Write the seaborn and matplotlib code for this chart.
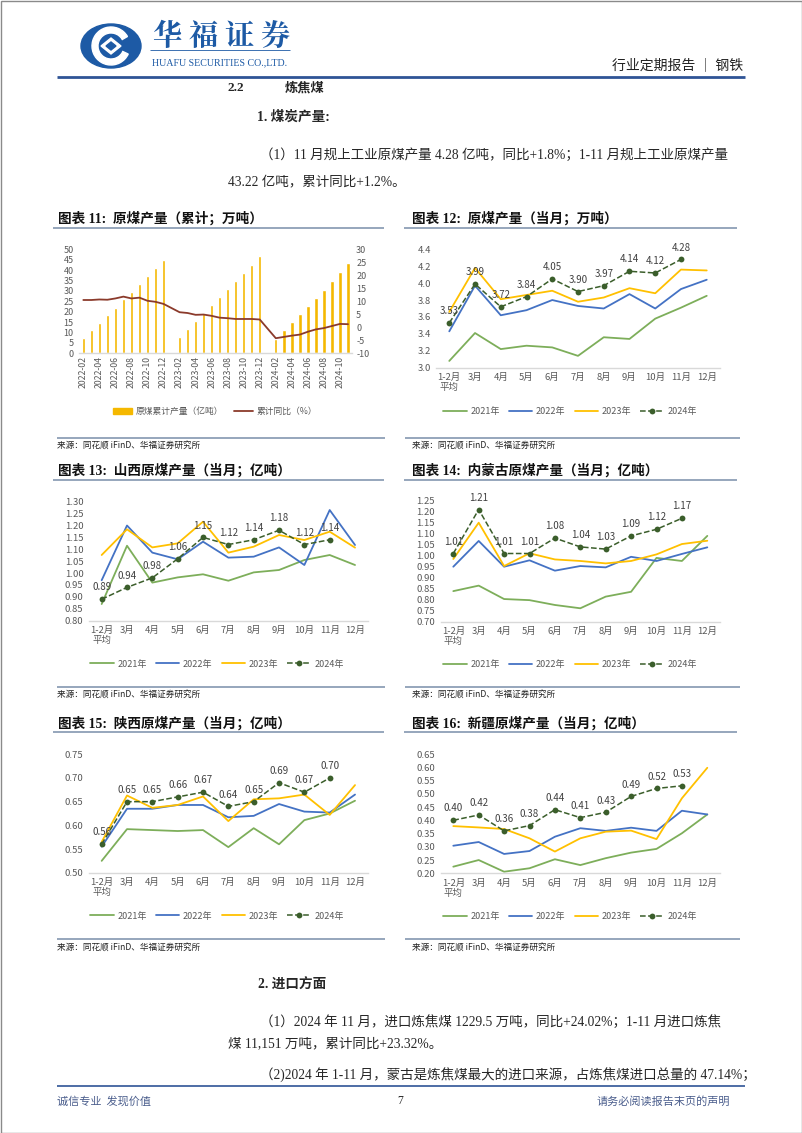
import matplotlib
matplotlib.use('Agg')
import matplotlib.pyplot as plt
import numpy as np
import pandas as pd
import seaborn as sns
from matplotlib.patches import Ellipse, Wedge, Polygon, Rectangle, Patch
from matplotlib.lines import Line2D

W, H = 802, 1133

# ---- 图表11: 原煤累计产量(亿吨) 与 累计同比(%) ----
cum_months = list(pd.period_range('2022-02', '2024-11', freq='M').strftime('%Y-%m'))
cum_prod = [7.2, 11.2, 14.6, 18.4, 22.0, 26.0, 29.5, 33.3, 37.0, 40.9, 45.0, None,
            7.7, 11.7, 15.5, 19.6, 23.1, 27.1, 30.8, 34.8, 38.5, 42.5, 46.8, None,
            7.0, 11.2, 14.9, 18.7, 22.8, 26.6, 30.6, 34.8, 39.1, 43.2]
cum_yoy = [10.5, 10.5, 10.7, 10.6, 11.1, 11.8, 11.1, 11.4, 10.2, 9.8, 9.0, None,
           5.8, 5.5, 4.8, 4.9, 4.4, 3.7, 3.5, 3.2, 3.2, 3.2, 3.0, None,
           -4.2, -3.7, -3.2, -2.8, -1.7, -0.8, -0.3, 0.5, 1.3, 1.2]

# ---- 当月数据 ----
MONTHS = ['1-2月\n平均', '3月', '4月', '5月', '6月', '7月', '8月', '9月', '10月', '11月', '12月']
YEARS = ['2021年', '2022年', '2023年', '2024年']

nat_2021 = [3.08, 3.41, 3.22, 3.26, 3.24, 3.14, 3.36, 3.34, 3.58, 3.71, 3.85]
nat_2022 = [3.43, 3.97, 3.62, 3.68, 3.80, 3.73, 3.70, 3.87, 3.70, 3.93, 4.04]
nat_2023 = [3.66, 4.18, 3.81, 3.86, 3.91, 3.78, 3.83, 3.94, 3.88, 4.16, 4.15]
nat_2024 = [3.53, 3.99, 3.72, 3.84, 4.05, 3.90, 3.97, 4.14, 4.12, 4.28]

sx_2021 = [0.87, 1.115, 0.96, 0.982, 0.995, 0.968, 1.003, 1.013, 1.055, 1.076, 1.034]
sx_2022 = [0.97, 1.20, 1.086, 1.058, 1.132, 1.065, 1.069, 1.108, 1.034, 1.265, 1.118]
sx_2023 = [1.076, 1.184, 1.108, 1.125, 1.216, 1.086, 1.111, 1.16, 1.139, 1.174, 1.107]
sx_2024 = [0.89, 0.94, 0.98, 1.06, 1.15, 1.12, 1.14, 1.18, 1.12, 1.14]

nm_2021 = [0.839, 0.864, 0.803, 0.798, 0.776, 0.761, 0.814, 0.836, 0.99, 0.976, 1.09]
nm_2022 = [0.95, 1.067, 0.95, 0.979, 0.932, 0.953, 0.947, 0.995, 0.976, 1.008, 1.038]
nm_2023 = [0.985, 1.15, 0.953, 1.011, 0.983, 0.976, 0.965, 0.976, 1.006, 1.053, 1.068]
nm_2024 = [1.01, 1.21, 1.01, 1.01, 1.08, 1.04, 1.03, 1.09, 1.12, 1.17]

shx_2021 = [0.525, 0.592, 0.590, 0.588, 0.590, 0.554, 0.594, 0.56, 0.611, 0.625, 0.652]
shx_2022 = [0.555, 0.635, 0.635, 0.643, 0.643, 0.617, 0.62, 0.645, 0.629, 0.627, 0.665]
shx_2023 = [0.565, 0.663, 0.637, 0.643, 0.661, 0.609, 0.655, 0.657, 0.665, 0.622, 0.685]
shx_2024 = [0.56, 0.65, 0.65, 0.66, 0.67, 0.64, 0.65, 0.69, 0.67, 0.70]

xj_2021 = [0.225, 0.25, 0.206, 0.219, 0.253, 0.231, 0.257, 0.278, 0.292, 0.351, 0.422]
xj_2022 = [0.304, 0.318, 0.273, 0.284, 0.338, 0.37, 0.36, 0.372, 0.36, 0.436, 0.422]
xj_2023 = [0.378, 0.373, 0.367, 0.332, 0.282, 0.332, 0.357, 0.361, 0.329, 0.483, 0.598]
xj_2024 = [0.40, 0.42, 0.36, 0.38, 0.44, 0.41, 0.43, 0.49, 0.52, 0.53]

C21, C22, C23, C24 = '#7DAE5A', '#4472C4', '#FFC000', '#3B5E2B'
BAR_C, YOY_C = '#F5B800', '#8B3A2B'
RULE_C, BLUE = '#8497B0', '#2F5496'
TICK_C = '#595959'

sns.set_theme(style='white')
plt.rcParams['font.family'] = ['Noto Sans CJK SC', 'DejaVu Sans']
plt.rcParams['axes.unicode_minus'] = False
SERIF = ['Liberation Serif', 'Noto Sans CJK SC']

fig = plt.figure(figsize=(W / 100, H / 100), dpi=100)
bg = fig.add_axes([0, 0, 1, 1])
bg.set_xlim(0, W)
bg.set_ylim(H, 0)
bg.axis('off')


def add_ax(l, t, r, b):
    return fig.add_axes([l / W, 1 - b / H, (r - l) / W, (b - t) / H])


def hline(y, x0, x1, color=RULE_C, lw=1.2):
    bg.plot([x0, x1], [y, y], color=color, lw=lw, solid_capstyle='butt')


# ---- 页眉 ----
bg.add_patch(Rectangle((0.5, 0.5), W - 1, H - 1, fill=False, ec='#8a8a8a', lw=1))
bg.add_patch(Ellipse((111, 46), 60, 44, color='#1D5AA5'))
bg.add_patch(Wedge((111, 46), 19, 25, 330, width=6, color='white'))
bg.add_patch(Polygon([[111, 38], [121, 46], [111, 54], [101, 46]], closed=True, color='white'))
bg.add_patch(Polygon([[111, 42], [116, 46], [111, 50], [106, 46]], closed=True, color='#1D5AA5'))
for i, ch in enumerate('华福证券'):
    bg.text(167 + i * 36, 37, ch, fontsize=21, fontweight='bold', color='#1D5AA5',
            ha='center', va='center', family=['Noto Serif CJK SC', 'Noto Sans CJK SC'])
hline(50, 150, 290, color='#1D5AA5', lw=0.6)
bg.text(220, 63, 'HUAFU SECURITIES CO.,LTD.', fontsize=7.2, color='#1D5AA5',
        ha='center', va='center', family=SERIF)
bg.text(743, 65.5, '行业定期报告 ｜ 钢铁', fontsize=10, color='#222222', ha='right', va='center')
hline(77, 57, 745, color=BLUE, lw=2)

# ---- 正文 ----
BODY = 9.75
bg.text(228, 88, '2.2', fontsize=9.5, fontweight='bold', va='center', family=SERIF)
bg.text(285, 88, '炼焦煤', fontsize=9.5, fontweight='bold', va='center', family=SERIF)
bg.text(257, 117, '1. 煤炭产量:', fontsize=9.8, fontweight='bold', va='center', family=SERIF)
bg.text(260, 155, '（1）11 月规上工业原煤产量 4.28 亿吨，同比+1.8%；1-11 月规上工业原煤产量',
        fontsize=BODY, va='center', family=SERIF)
bg.text(228, 183, '43.22 亿吨，累计同比+1.2%。', fontsize=BODY, va='center', family=SERIF)

bg.text(258, 985, '2. 进口方面', fontsize=9.8, fontweight='bold', va='center', family=SERIF)
bg.text(260, 1022, '（1）2024 年 11 月，进口炼焦煤 1229.5 万吨，同比+24.02%；1-11 月进口炼焦',
        fontsize=BODY, va='center', family=SERIF)
bg.text(228, 1044, '煤 11,151 万吨，累计同比+23.32%。', fontsize=BODY, va='center', family=SERIF)
bg.text(260, 1075, '（2)2024 年 1-11 月，蒙古是炼焦煤最大的进口来源，占炼焦煤进口总量的 47.14%；',
        fontsize=BODY, va='center', family=SERIF)

hline(1086, 57, 745, color=BLUE, lw=1.2)
bg.text(57, 1101, '诚信专业  发现价值', fontsize=8, color='#4A5D8C', va='center')
bg.text(400, 1101, '7', fontsize=8.5, va='center', ha='center', family=SERIF)
bg.text(730, 1101, '请务必阅读报告末页的声明', fontsize=8, color='#4A5D8C', va='center', ha='right')

# ---- 图表标题、分隔线、来源 ----
titles = [
    (58, 218, '图表 11:  原煤产量（累计；万吨）'),
    (412, 218, '图表 12:  原煤产量（当月；万吨）'),
    (58, 470, '图表 13:  山西原煤产量（当月；亿吨）'),
    (412, 470, '图表 14:  内蒙古原煤产量（当月；亿吨）'),
    (58, 723, '图表 15:  陕西原煤产量（当月；亿吨）'),
    (412, 723, '图表 16:  新疆原煤产量（当月；亿吨）'),
]
for x, y, t in titles:
    bg.text(x, y, t, fontsize=9.8, fontweight='bold', va='center', color='#111111', family=SERIF)
for y in (227.5, 479.5, 732):
    hline(y, 53, 384)
    hline(y, 404, 737)
for y in (437.5, 686.5, 939):
    hline(y, 57, 385)
    hline(y, 405, 740)
    bg.text(57, y + 9, '来源：同花顺 iFinD、华福证券研究所', fontsize=6.2, va='center', color='#222222')
    bg.text(412, y + 9, '来源：同花顺 iFinD、华福证券研究所', fontsize=6.2, va='center', color='#222222')


def style_ax(ax, ylim, step, fmt):
    ticks = np.arange(ylim[0], ylim[1] + step / 2, step)
    ax.set_ylim(ylim)
    ax.set_yticks(ticks)
    ax.set_yticklabels([fmt.format(v) for v in ticks])
    for s in ('top', 'right', 'left'):
        ax.spines[s].set_visible(False)
    ax.spines['bottom'].set_color('#D9D9D9')
    ax.spines['bottom'].set_linewidth(1)
    ax.tick_params(axis='both', length=0, labelsize=6.8, labelcolor=TICK_C, pad=4)
    ax.set_xlabel('')
    ax.set_ylabel('')
    ax.patch.set_alpha(0)


def month_chart(box, s21, s22, s23, s24, ylim, step, fmt, legend_xy):
    ax = add_ax(*box)
    pos = np.arange(len(MONTHS))
    for vals, color, lab in ((s21, C21, YEARS[0]), (s22, C22, YEARS[1]), (s23, C23, YEARS[2])):
        sns.lineplot(x=pos[:len(vals)], y=vals, color=color, lw=1.3, label=lab, ax=ax)
    sns.lineplot(x=pos[:len(s24)], y=s24, color=C24, lw=1.1, linestyle='--', marker='o',
                 markersize=4.2, markeredgewidth=0, label=YEARS[3], ax=ax)
    for xi, v in zip(pos, s24):
        ax.annotate(f'{v:.2f}', (xi, v), xytext=(0, 8.5), textcoords='offset points',
                    ha='center', va='center', fontsize=7, color='#404040')
    ax.set_xlim(-0.5, len(MONTHS) - 0.5)
    ax.set_xticks(pos)
    ax.set_xticklabels(MONTHS, linespacing=1.1)
    style_ax(ax, ylim, step, fmt)
    ax.legend(loc='center', bbox_to_anchor=(legend_xy[0] / W, 1 - legend_xy[1] / H),
              bbox_transform=fig.transFigure, ncol=4, frameon=False, fontsize=6.5,
              handlelength=2.6, columnspacing=1.0, handletextpad=0.4, labelcolor=TICK_C)
    return ax


# ---- 图表11 ----
ax11 = add_ax(79.3, 249.3, 352, 353.3)
df_cum = pd.DataFrame({'month': cum_months, 'prod': cum_prod, 'yoy': cum_yoy})
df_cum['pos'] = np.arange(len(df_cum))
sns.barplot(data=df_cum.dropna(subset=['prod']), x='month', y='prod', order=cum_months,
            color=BAR_C, width=0.42, saturation=1, ax=ax11)
ax11r = ax11.twinx()
sns.lineplot(data=df_cum.dropna(subset=['yoy']), x='pos', y='yoy', color=YOY_C, lw=1.3, ax=ax11r)
ax11.set_xlim(-0.5, len(cum_months) - 0.5)
ax11.set_xticks(np.arange(0, len(cum_months), 2))
ax11.set_xticklabels(cum_months[::2], rotation=90)
style_ax(ax11, (0, 50), 5, '{:.0f}')
style_ax(ax11r, (-10, 30), 5, '{:.0f}')
ax11.tick_params(axis='x', length=3, color='#BFBFBF', labelsize=6.3, pad=2)
ax11.tick_params(axis='y', labelsize=6.5)
ax11r.tick_params(axis='y', labelsize=6.5, pad=3)
ax11r.spines['bottom'].set_visible(False)
ax11.set_xticks(np.arange(len(cum_months)) + 0.5, minor=True)
ax11.tick_params(axis='x', which='minor', length=3, color='#BFBFBF')
ax11.tick_params(axis='x', which='major', length=0)
handles11 = [Patch(color=BAR_C, label='原煤累计产量（亿吨）'),
             Line2D([], [], color=YOY_C, lw=1.3, label='累计同比（%）')]
ax11.legend(handles=handles11, loc='center', bbox_to_anchor=(215 / W, 1 - 411.5 / H),
            bbox_transform=fig.transFigure, ncol=2, frameon=False, fontsize=6.3,
            handlelength=2.2, columnspacing=1.2, handletextpad=0.4, labelcolor=TICK_C)

# ---- 图表12-16 ----
month_chart((436.4, 249.3, 719.6, 367.7), nat_2021, nat_2022, nat_2023, nat_2024,
            (3.0, 4.4), 0.2, '{:.1f}', (570, 411.5))
month_chart((89, 501.7, 367.7, 620.7), sx_2021, sx_2022, sx_2023, sx_2024,
            (0.80, 1.30), 0.05, '{:.2f}', (217, 664))
month_chart((440.6, 500.7, 720, 621.7), nm_2021, nm_2022, nm_2023, nm_2024,
            (0.70, 1.25), 0.05, '{:.2f}', (570, 665))
month_chart((89, 754.3, 367.7, 872.7), shx_2021, shx_2022, shx_2023, shx_2024,
            (0.50, 0.75), 0.05, '{:.2f}', (217, 916))
month_chart((440.6, 754, 720, 873.3), xj_2021, xj_2022, xj_2023, xj_2024,
            (0.20, 0.65), 0.05, '{:.2f}', (570, 917))

fig.savefig('out.png', dpi=100)
